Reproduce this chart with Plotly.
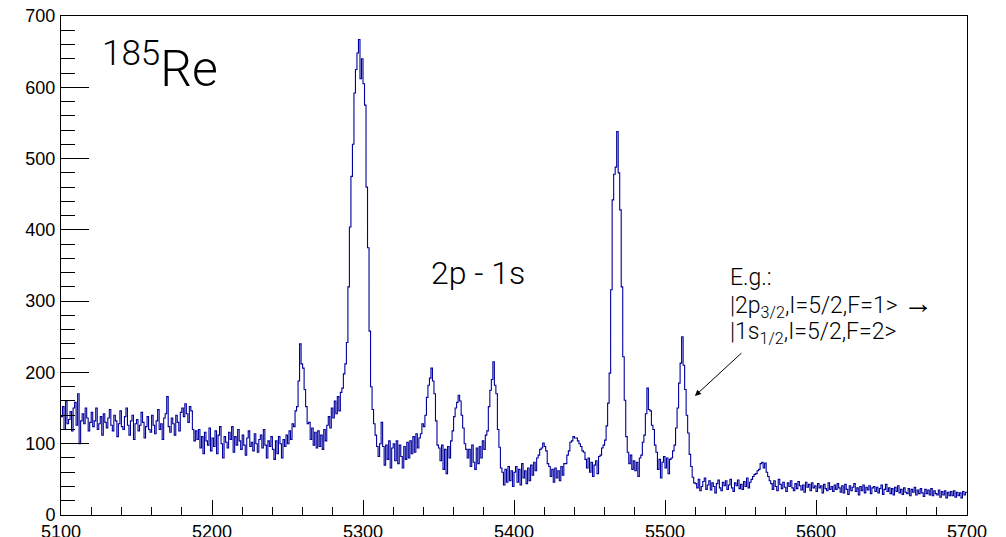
import plotly.graph_objects as go

# Histogram: counts per 1-unit bin, bin left edges 5100 ... 5699
bin_start = 5100
bin_width = 1
counts = [
    138, 152, 120, 160, 128, 134, 145, 118, 150, 158,   # 5100
    126, 170, 100, 132, 142, 128, 150, 136, 118, 130,   # 5110
    144, 124, 132, 150, 120, 128, 138, 112, 142, 130,   # 5120
    122, 136, 148, 126, 118, 140, 132, 110, 128, 146,   # 5130
    124, 120, 138, 150, 126, 112, 132, 140, 106, 128,   # 5140
    134, 118, 126, 144, 130, 108, 124, 138, 120, 116,   # 5150
    140, 126, 114, 132, 148, 120, 128, 106, 136, 142,   # 5160
    166, 124, 116, 136, 128, 112, 140, 130, 118, 144,   # 5170
    150, 138, 156, 142, 130, 152, 146, 120, 104, 118,   # 5180
    106, 120, 94, 110, 86, 116, 104, 98, 122, 90,       # 5190
    108, 96, 118, 86, 112, 124, 100, 80, 110, 102,      # 5200
    94, 116, 106, 124, 88, 110, 98, 120, 104, 92,       # 5210
    112, 98, 84, 108, 118, 96, 102, 90, 114, 100,       # 5220
    88, 106, 112, 94, 120, 98, 80, 104, 96, 110,        # 5230
    92, 78, 104, 86, 110, 100, 80, 106, 96, 112,        # 5240
    100, 118, 106, 128, 124, 146, 152, 188, 240, 212,   # 5250
    206, 176, 152, 128, 130, 106, 122, 98, 116, 94,     # 5260
    118, 96, 112, 92, 120, 104, 126, 138, 122, 150,     # 5270
    136, 160, 142, 166, 146, 172, 178, 198, 212, 242,   # 5280
    320, 404, 475, 520, 592, 625, 648, 667, 612, 640,   # 5290
    605, 575, 460, 375, 258, 180, 148, 128, 112, 96,    # 5300
    82, 100, 130, 96, 70, 98, 78, 104, 66, 94,          # 5310
    100, 76, 104, 72, 98, 82, 66, 96, 78, 102,          # 5320
    80, 104, 86, 110, 88, 114, 94, 108, 114, 128,       # 5330
    124, 140, 165, 182, 192, 206, 188, 170, 132, 98,    # 5340
    94, 76, 98, 64, 92, 58, 96, 80, 104, 118,           # 5350
    138, 150, 158, 168, 160, 140, 122, 100, 92, 80,     # 5360
    92, 68, 98, 74, 64, 94, 72, 96, 80, 104,            # 5370
    92, 112, 118, 152, 175, 190, 215, 182, 170, 120,    # 5380
    95, 66, 60, 42, 64, 46, 68, 48, 62, 40,             # 5390
    60, 68, 46, 64, 42, 72, 52, 62, 44, 66,             # 5400
    48, 70, 56, 74, 62, 80, 84, 92, 94, 101,            # 5410
    96, 90, 72, 68, 54, 64, 46, 66, 52, 62,             # 5420
    48, 68, 56, 72, 72, 84, 90, 102, 104, 110,          # 5430
    108, 108, 104, 100, 96, 90, 88, 78, 66, 80,         # 5440
    60, 74, 54, 70, 76, 58, 82, 84, 94, 98,             # 5450
    105, 125, 157, 199, 316, 442, 478, 488, 538, 480,   # 5460
    428, 320, 222, 161, 110, 88, 72, 84, 64, 76,        # 5470
    62, 74, 54, 80, 84, 102, 112, 142, 178, 148,        # 5480
    146, 126, 120, 98, 88, 64, 78, 52, 74, 82,          # 5490
    66, 80, 58, 78, 80, 90, 98, 122, 150, 185,          # 5500
    213, 250, 210, 176, 140, 115, 85, 68, 53, 45,       # 5510
    44, 38, 50, 34, 40, 47, 52, 36, 42, 48,             # 5520
    35, 45, 40, 31, 44, 49, 38, 34, 46, 41,             # 5530
    48, 36, 42, 50, 38, 33, 45, 41, 49, 37,             # 5540
    43, 36, 47, 40, 52, 38, 46, 50, 54, 57,             # 5550
    58, 62, 64, 72, 74, 66, 73, 60, 54, 48,             # 5560
    44, 36, 48, 40, 34, 50, 43, 37, 46, 39,             # 5570
    33, 45, 40, 48, 38, 34, 44, 37, 47, 41,             # 5580
    35, 42, 32, 46, 39, 43, 34, 45, 38, 41,             # 5590
    33, 44, 38, 41, 31, 43, 37, 34, 45, 36,             # 5600
    40, 33, 42, 36, 44, 38, 32, 41, 31, 43,             # 5610
    36, 29, 41, 34, 39, 44, 33, 38, 28, 40,             # 5620
    34, 42, 31, 39, 35, 41, 30, 38, 40, 33,             # 5630
    39, 31, 37, 42, 29, 36, 43, 33, 38, 30,             # 5640
    37, 28, 39, 33, 41, 31, 36, 29, 38, 32,             # 5650
    30, 37, 27, 36, 32, 39, 28, 35, 30, 37,             # 5660
    31, 26, 36, 30, 35, 28, 37, 27, 34, 30,             # 5670
    28, 35, 25, 33, 28, 34, 24, 32, 27, 33,             # 5680
    27, 34, 25, 32, 27, 31, 24, 33, 28, 32,             # 5690
]

x_ticks = [5100, 5200, 5300, 5400, 5500, 5600, 5700]
y_ticks = [0, 100, 200, 300, 400, 500, 600, 700]

isotope_label = "<sup>185</sup>Re"
transition_label = "2p - 1s"
eg_lines = [
    "E.g.:",
    "|2p<sub>3/2</sub>,I=5/2,F=1&gt; <span style=\"font-size:30px\">\u2192</span>",
    "|1s<sub>1/2</sub>,I=5/2,F=2&gt;",
]

edges = [bin_start + i * bin_width for i in range(len(counts) + 1)]
yvals = counts + [counts[-1]]

line_color = "#00009c"
font_family = "Liberation Sans, Arial, sans-serif"
light_family = "Roboto, Liberation Sans, sans-serif"

fig = go.Figure()
fig.add_trace(go.Scatter(
    x=edges, y=yvals, mode="lines", line=dict(color=line_color, width=1.1, shape="hv"),
    hoverinfo="skip", showlegend=False,
))

# page body has an 8px default margin: size/margins compensate for it
fig.update_layout(
    width=998, height=529,
    margin=dict(l=53, r=39, t=8, b=22),
    paper_bgcolor="white", plot_bgcolor="white",
    font=dict(family=font_family, size=18, color="black"),
    xaxis=dict(
        range=[5100, 5700], tickvals=x_ticks, ticktext=[str(v) for v in x_ticks],
        ticks="inside", ticklen=15, tickwidth=1, tickcolor="black",
        minor=dict(dtick=20, ticks="inside", ticklen=8, tickwidth=1, tickcolor="black"),
        showline=True, linecolor="black", linewidth=1, mirror=True,
        showgrid=False, zeroline=False, tickfont=dict(size=18), automargin=False,
        ticklabeloverflow="allow", ticklabelstandoff=0,
    ),
    yaxis=dict(
        range=[0, 700], tickvals=y_ticks, ticktext=[str(v) for v in y_ticks],
        ticks="inside", ticklen=28, tickwidth=1, tickcolor="black",
        minor=dict(dtick=20, ticks="inside", ticklen=14, tickwidth=1, tickcolor="black"),
        showline=True, linecolor="black", linewidth=1, mirror=True,
        showgrid=False, zeroline=False, tickfont=dict(size=18), automargin=False,
        ticklabelstandoff=1, ticklabeloverflow="allow",
    ),
)

fig.add_annotation(x=5126, y=631, xref="x", yref="y", text=isotope_label,
                   showarrow=False, xanchor="left", yanchor="middle",
                   font=dict(size=50, family=light_family, weight=300, color="black"))
fig.add_annotation(x=5376, y=340, xref="x", yref="y", text=transition_label,
                   showarrow=False, xanchor="center", yanchor="middle",
                   font=dict(size=32, family=light_family, weight=300, color="black"))
for txt, yy in zip(eg_lines, [333, 296, 256]):
    fig.add_annotation(x=5541.6, y=yy, xref="x", yref="y", text=txt,
                       showarrow=False, xanchor="left", yanchor="middle",
                       font=dict(size=23, family=light_family, weight=300, color="black"))
# arrow pointing at the 5512 peak
fig.add_annotation(x=5519.8, y=167, xref="x", yref="y", ax=5551.6, ay=229,
                   axref="x", ayref="y", text="", showarrow=True,
                   arrowhead=2, arrowsize=1.2, arrowwidth=1, arrowcolor="black")

fig.write_html("out.html")
